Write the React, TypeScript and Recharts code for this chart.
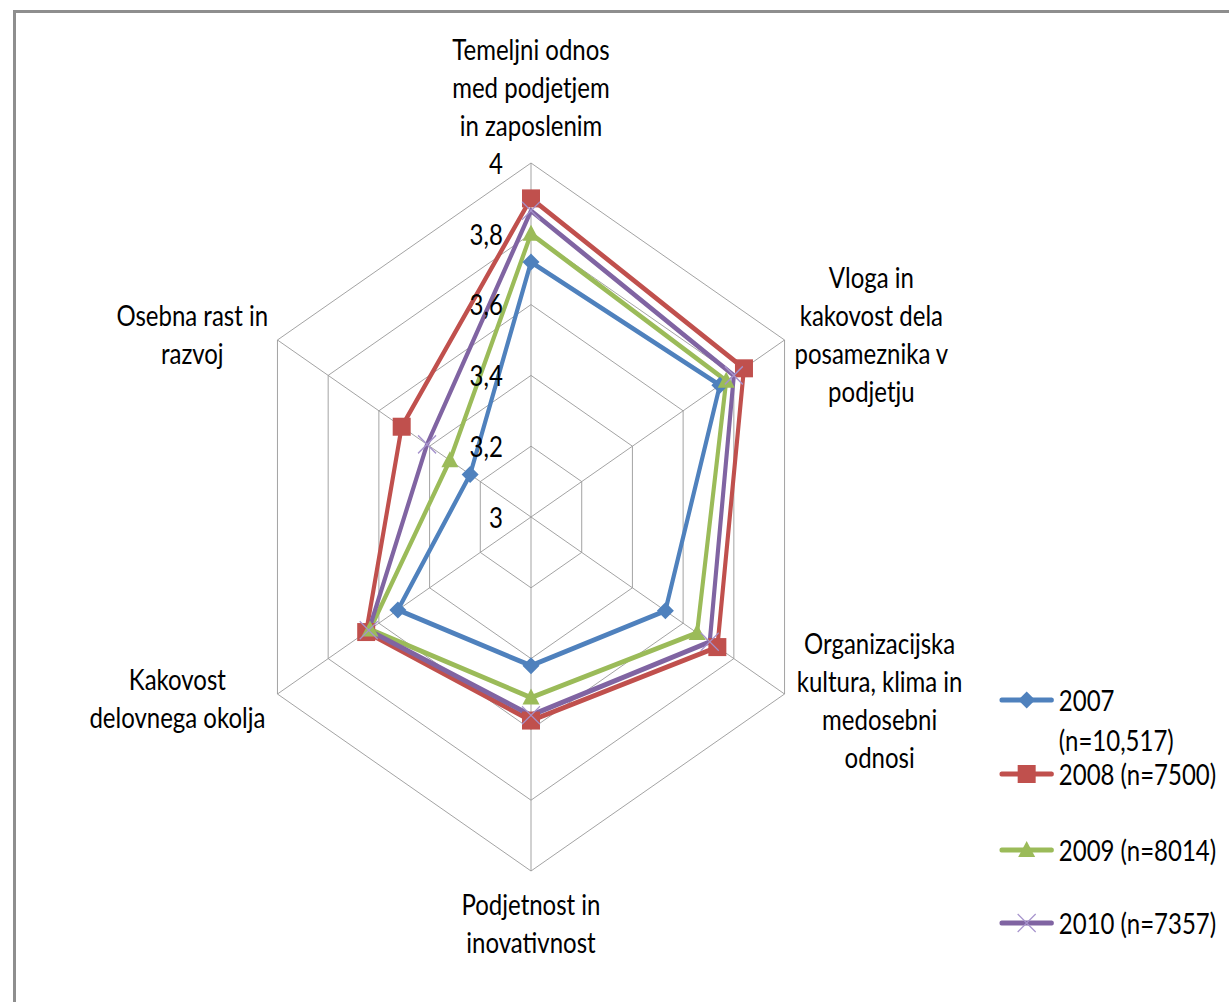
import React from 'react'
import { RadarChart, Radar, PolarGrid, PolarAngleAxis, PolarRadiusAxis, Legend } from 'recharts'

// axis categories, clockwise from the top
const CATEGORIES = [
  'Temeljni odnos med podjetjem in zaposlenim',
  'Vloga in kakovost dela posameznika v podjetju',
  'Organizacijska kultura, klima in medosebni odnosi',
  'Podjetnost in inovativnost',
  'Kakovost delovnega okolja',
  'Osebna rast in razvoj',
]
// how the category labels wrap in the original
const CATEGORY_LINES = [
  ['Temeljni odnos', 'med podjetjem', 'in zaposlenim'],
  ['Vloga in', 'kakovost dela', 'posameznika v', 'podjetju'],
  ['Organizacijska', 'kultura, klima in', 'medosebni', 'odnosi'],
  ['Podjetnost in', 'inovativnost'],
  ['Kakovost', 'delovnega okolja'],
  ['Osebna rast in', 'razvoj'],
]

const SERIES_NAMES = ['2007 (n=10,517)', '2008 (n=7500)', '2009 (n=8014)', '2010 (n=7357)']
const LEGEND_LINES = [['2007', '(n=10,517)'], ['2008 (n=7500)'], ['2009 (n=8014)'], ['2010 (n=7357)']]

const Y2007 = [3.72, 3.745, 3.53, 3.42, 3.525, 3.24]
const Y2008 = [3.9, 3.84, 3.735, 3.575, 3.65, 3.51]
const Y2009 = [3.8, 3.77, 3.655, 3.51, 3.635, 3.32]
const Y2010 = [3.865, 3.8, 3.705, 3.56, 3.64, 3.41]

const RADIUS_DOMAIN = [3, 4]
const RADIUS_TICKS = [3, 3.2, 3.4, 3.6, 3.8, 4]

const data = CATEGORIES.map((c, i) => ({
  axis: c,
  y2007: Y2007[i],
  y2008: Y2008[i],
  y2009: Y2009[i],
  y2010: Y2010[i],
}))

// the original picture is squeezed horizontally, so draw wide and scale x
const SX = 0.827
const W = Math.round(1229 / SX)
const H = 1002
const CX = 531 / SX
const CY = 517
const R = 354
const FONT = 'Lato, "Open Sans", sans-serif'
const FS = 29
const LINE_H = 38

const BLUE = '#4F81BD'
const RED = '#C0504D'
const GREEN = '#9BBB59'
const PURPLE = '#8064A2'
const PURPLE_X = '#A592CC'

// label block centre relative to each outer vertex (unscaled px)
const LABEL_OFFSETS = [
  [0, -76],
  [105, -6],
  [115, 6],
  [0, 52],
  [-121, 4],
  [-103, -6],
]

function renderAngleTick(props: any) {
  const idx = props.index
  const a = (props.payload.coordinate * Math.PI) / 180
  const vx = CX + R * Math.cos(a)
  const vy = CY - R * Math.sin(a)
  const [dx, dy] = LABEL_OFFSETS[idx]
  const lines = CATEGORY_LINES[idx]
  const y0 = vy + dy - ((lines.length - 1) * LINE_H) / 2
  return (
    <g key={`lab-${idx}`}>
      {lines.map((t, i) => (
        <text
          key={i}
          x={vx + dx}
          y={y0 + i * LINE_H}
          textAnchor="middle"
          dominantBaseline="central"
          fontFamily={FONT}
          fontSize={FS}
          fill="#000"
        >
          {t}
        </text>
      ))}
    </g>
  )
}

function renderRadiusTick(props: any) {
  const v = props.payload.value
  return (
    <text
      key={`rt-${v}`}
      x={props.x - 34}
      y={props.y}
      textAnchor="end"
      dominantBaseline="central"
      fontFamily={FONT}
      fontSize={FS}
      fill="#000"
    >
      {String(v).replace('.', ',')}
    </text>
  )
}

function Diamond({ x, y, color }: any) {
  const hw = 8.5 / SX
  const hh = 8.5
  return <polygon points={`${x},${y - hh} ${x + hw},${y} ${x},${y + hh} ${x - hw},${y}`} fill={color} />
}
function Square({ x, y, color }: any) {
  const hw = 9 / SX
  return <rect x={x - hw} y={y - 9} width={hw * 2} height={18} fill={color} />
}
function Triangle({ x, y, color }: any) {
  const hw = 8.5 / SX
  return <polygon points={`${x},${y - 9} ${x + hw},${y + 7} ${x - hw},${y + 7}`} fill={color} />
}
function Cross({ x, y, color }: any) {
  const hw = 9 / SX
  return (
    <g stroke={color} strokeWidth={1.5}>
      <line x1={x - hw} y1={y - 9} x2={x + hw} y2={y + 9} />
      <line x1={x - hw} y1={y + 9} x2={x + hw} y2={y - 9} />
    </g>
  )
}

const MARKERS = [
  (x: number, y: number) => <Diamond x={x} y={y} color={BLUE} />,
  (x: number, y: number) => <Square x={x} y={y} color={RED} />,
  (x: number, y: number) => <Triangle x={x} y={y} color={GREEN} />,
  (x: number, y: number) => <Cross x={x} y={y} color={PURPLE_X} />,
]
const COLORS = [BLUE, RED, GREEN, PURPLE]

const dotFor = (s: number) => (p: any) => <g key={`dot-${s}-${p.index}`}>{MARKERS[s](p.cx, p.cy)}</g>

// legend rows (unscaled px inside the legend box)
const LEG_X = 1000 / SX
const LEG_Y = 680
const LEG_ROWS = [20, 94, 170, 243]

function renderLegend() {
  const lineLen = 52 / SX
  const textX = 59 / SX
  return (
    <svg width={320} height={280} style={{ overflow: 'visible' }}>
      {LEGEND_LINES.map((lines, s) => (
        <g key={s}>
          <line x1={2} y1={LEG_ROWS[s]} x2={lineLen} y2={LEG_ROWS[s]} stroke={COLORS[s]} strokeWidth={5} strokeLinecap="round" />
          {MARKERS[s](lineLen / 2 + 1, LEG_ROWS[s])}
          {lines.map((t, i) => (
            <text
              key={i}
              x={textX}
              y={LEG_ROWS[s] + i * 40}
              dominantBaseline="central"
              fontFamily={FONT}
              fontSize={FS}
              fill="#000"
            >
              {t}
            </text>
          ))}
        </g>
      ))}
    </svg>
  )
}

export default function App() {
  return (
    <div style={{ position: 'fixed', left: 0, top: 0, width: 1229, height: 1002, overflow: 'hidden', background: '#fff' }}>
      <div
        style={{
          position: 'absolute',
          left: 13,
          top: 10,
          width: 1400,
          height: 1200,
          border: '3px solid #8e8e8e',
        }}
      />
      <div
        style={{
          position: 'absolute',
          left: 0,
          top: 0,
          width: W,
          height: H,
          transform: `scaleX(${SX})`,
          transformOrigin: '0 0',
        }}
      >
        <RadarChart
          width={W}
          height={H}
          data={data}
          cx={CX}
          cy={CY}
          outerRadius={R}
          startAngle={90}
          endAngle={-270}
          margin={{ top: 0, right: 0, bottom: 0, left: 0 }}
        >
          <PolarGrid gridType="polygon" stroke="#9a9a9a" strokeWidth={1} />
          <PolarAngleAxis dataKey="axis" tick={renderAngleTick} tickLine={false} axisLine={false} />
          <PolarRadiusAxis
            angle={90}
            type="number"
            scale="linear"
            domain={RADIUS_DOMAIN}
            ticks={RADIUS_TICKS}
            tickCount={6}
            allowDataOverflow
            tick={renderRadiusTick}
            axisLine={false}
            tickLine={false}
          />
          <Radar name={SERIES_NAMES[0]} dataKey="y2007" stroke={BLUE} strokeWidth={5} fill="none" fillOpacity={0} dot={dotFor(0)} isAnimationActive={false} />
          <Radar name={SERIES_NAMES[1]} dataKey="y2008" stroke={RED} strokeWidth={5} fill="none" fillOpacity={0} dot={dotFor(1)} isAnimationActive={false} />
          <Radar name={SERIES_NAMES[2]} dataKey="y2009" stroke={GREEN} strokeWidth={5} fill="none" fillOpacity={0} dot={dotFor(2)} isAnimationActive={false} />
          <Radar name={SERIES_NAMES[3]} dataKey="y2010" stroke={PURPLE} strokeWidth={5} fill="none" fillOpacity={0} dot={dotFor(3)} isAnimationActive={false} />
          <Legend
            verticalAlign="top"
            align="left"
            content={renderLegend}
            wrapperStyle={{ position: 'absolute', left: LEG_X, top: LEG_Y, width: 320, height: 280 }}
          />
        </RadarChart>
      </div>
    </div>
  )
}
